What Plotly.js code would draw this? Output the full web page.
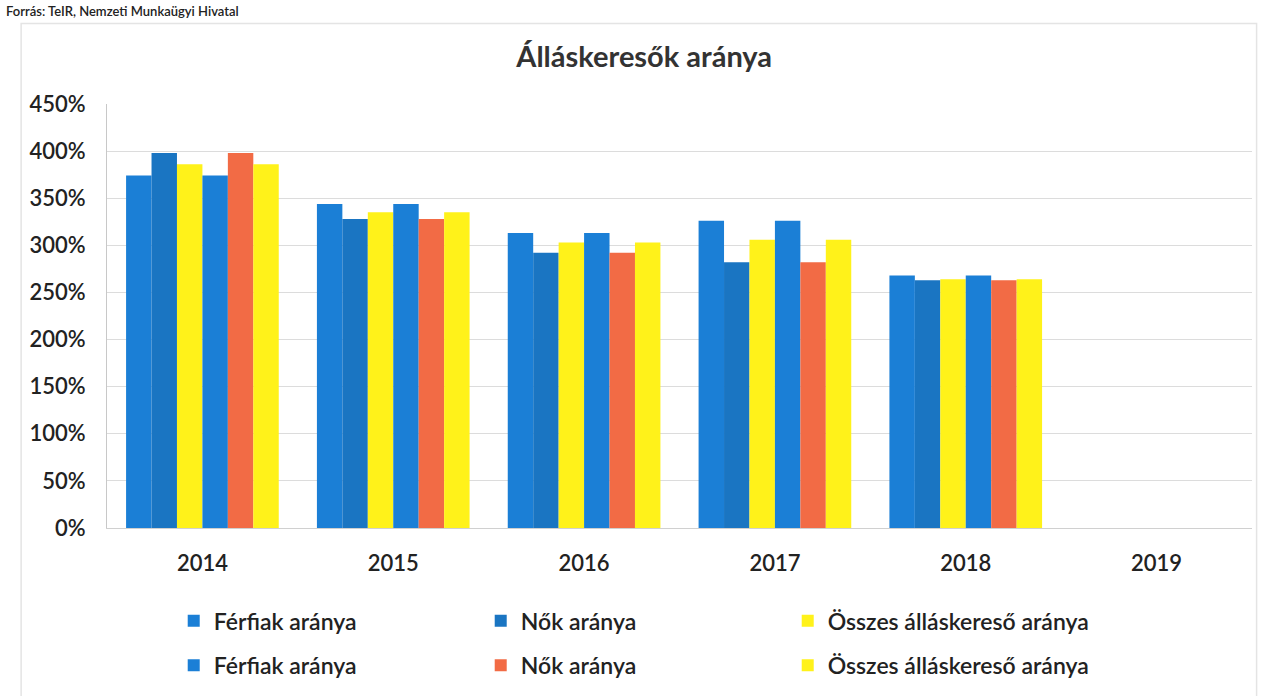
<!DOCTYPE html>
<html>
<head>
<meta charset="utf-8">
<script src="https://cdn.plot.ly/plotly-3.0.1.min.js"></script>
<style>html,body{margin:0;padding:0;background:#fff;}#chart{width:1268px;height:696px;}</style>
</head>
<body>
<div id="chart"></div>
<script>
var years = ['2014', '2015', '2016', '2017', '2018', '2019'];
var ferfiakA = [374, 344, 313, 326, 268, null];
var nokA = [398, 328, 292, 282, 263, null];
var osszesA = [386, 335, 303, 306, 264, null];
var ferfiakB = [374, 344, 313, 326, 268, null];
var nokB = [398, 328, 292, 282, 263, null];
var osszesB = [386, 335, 303, 306, 264, null];
var seriesNames = ['Férfiak aránya', 'Nők aránya', 'Összes álláskereső aránya',
                   'Férfiak aránya', 'Nők aránya', 'Összes álláskereső aránya'];
var yTicks = [0, 50, 100, 150, 200, 250, 300, 350, 400, 450];

var colors = ['#1b7fd6', '#1a75c2', '#fff21a', '#1b7fd6', '#f26b45', '#fff21a'];
var data = [ferfiakA, nokA, osszesA, ferfiakB, nokB, osszesB];
var traces = data.map(function (vals, i) {
  return {
    type: 'bar', x: years, y: vals, name: seriesNames[i],
    marker: {color: colors[i]},
    legend: i < 3 ? 'legend' : 'legend2',
    hoverinfo: 'x+y+name'
  };
});

var fontFam = 'Lato, "Open Sans", sans-serif';
var tickFont = {family: fontFam, size: 22, color: '#222', weight: 600};
var legendCommon = {
  orientation: 'h', xref: 'container', yref: 'container',
  x: 0.137, xanchor: 'left', yanchor: 'middle',
  entrywidth: 262, entrywidthmode: 'pixels',
  font: {family: fontFam, size: 23, color: '#222', weight: 600},
  itemwidth: 30, bgcolor: 'rgba(0,0,0,0)', traceorder: 'normal'
};

var layout = {
  width: 1268, height: 696,
  paper_bgcolor: '#fff', plot_bgcolor: '#fff',
  margin: {l: 107, r: 16, t: 104, b: 168},
  title: {text: '<b>Álláskeresők aránya</b>', x: 0.508, xanchor: 'center', y: 0.918, yanchor: 'middle',
          font: {family: fontFam, size: 29, color: '#333'}},
  barmode: 'group', bargap: 0.2, bargroupgap: 0,
  xaxis: {type: 'category', tickfont: tickFont, ticklabelstandoff: 16,
          showgrid: false, showline: true, linecolor: '#d0d0d0', ticks: '', fixedrange: true},
  yaxis: {range: [0, 450], tickvals: yTicks, ticktext: yTicks.map(function (v) { return v + '%'; }),
          tickfont: tickFont, ticklabelstandoff: 16,
          showgrid: true, gridcolor: '#dcdcdc', showline: true, linecolor: '#c8c8c8',
          zeroline: false, ticks: '', fixedrange: true},
  legend: Object.assign({}, legendCommon, {y: 0.108}),
  legend2: Object.assign({}, legendCommon, {y: 0.044}),
  shapes: [{type: 'rect', xref: 'paper', yref: 'paper', x0: -0.075, x1: 1.004, y0: -0.45, y1: 1.19,
            line: {color: '#e4e4e4', width: 1.5}, fillcolor: 'rgba(0,0,0,0)', layer: 'below'}],
  annotations: [{text: 'Forrás: TeIR, Nemzeti Munkaügyi Hivatal', xref: 'paper', yref: 'paper',
                 x: -0.09, y: 1.243, xanchor: 'left', yanchor: 'top', showarrow: false,
                 font: {family: fontFam, size: 13, color: '#222', weight: 600}}]
};

Plotly.newPlot('chart', traces, layout, {displayModeBar: false, responsive: false});
</script>
</body>
</html>
